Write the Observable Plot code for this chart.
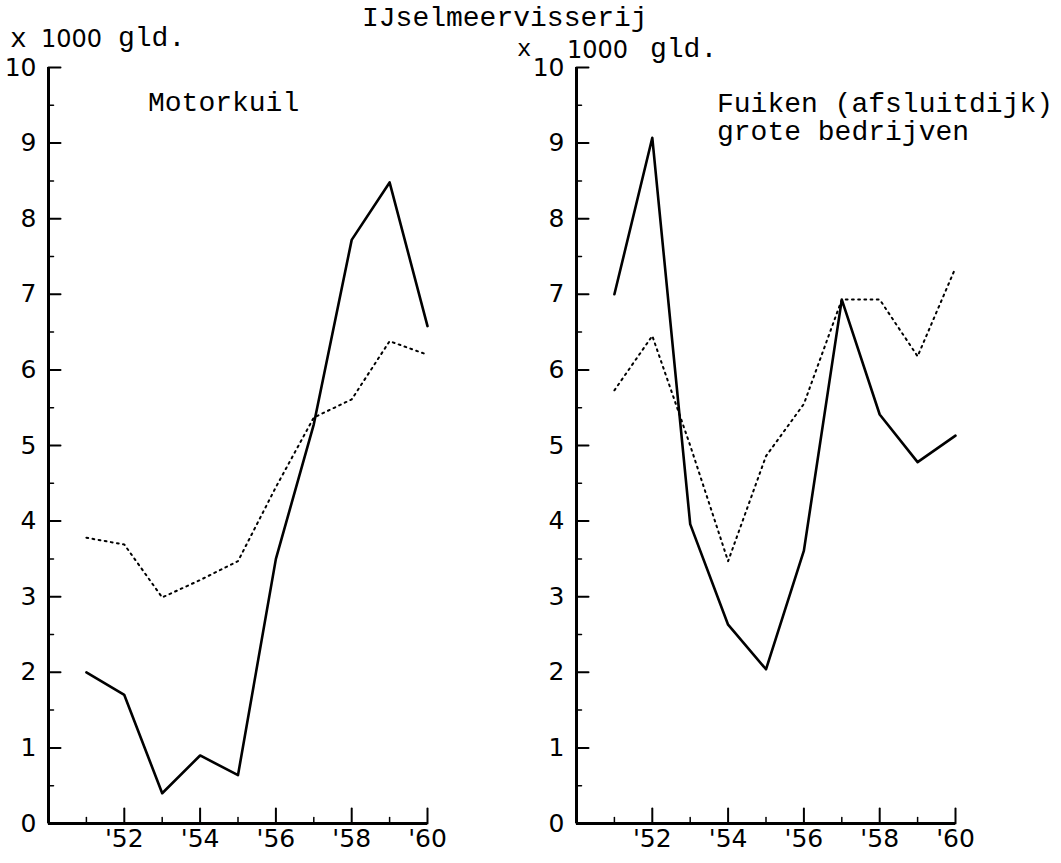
<!DOCTYPE html>
<html><head><meta charset="utf-8">
<script src="https://cdn.jsdelivr.net/npm/d3@7"></script>
<script src="https://cdn.jsdelivr.net/npm/@observablehq/plot@0.6"></script>
<style>
body{margin:0;background:#fff;}
#wrap{position:relative;width:1061px;height:863px;overflow:hidden;background:#fff;}
.mono{position:absolute;font-family:"Liberation Mono",monospace;font-size:28px;line-height:20px;color:#000;white-space:pre;}
.sans{position:absolute;font-family:"DejaVu Sans",sans-serif;font-size:24px;line-height:18px;color:#000;white-space:pre;}
.panel{position:absolute;top:0;}
</style></head>
<body><div id="wrap">
<div id="left" class="panel" style="left:0px"></div>
<div id="right" class="panel" style="left:520px"></div>
<div class="mono" style="left:362px;top:9px">IJselmeervisserij</div>
<div class="mono" style="left:10px;top:30px">x</div>
<div class="sans" style="left:41px;top:30px">1000</div>
<div class="mono" style="left:118px;top:29px">gld.</div>
<div class="mono" style="left:517px;top:40px;font-size:24px">x</div>
<div class="sans" style="left:567px;top:41px">1000</div>
<div class="mono" style="left:650px;top:40px">gld.</div>
<div class="mono" style="left:148px;top:94px">Motorkuil</div>
<div class="mono" style="left:717px;top:95px">Fuiken (afsluitdijk)</div>
<div class="mono" style="left:717px;top:123px">grote bedrijven</div>
</div>
<script>
const years = [1951, 1952, 1953, 1954, 1955, 1956, 1957, 1958, 1959, 1960];
const motorkuilSolid  = [2.0, 1.7, 0.4, 0.9, 0.64, 3.5, 5.28, 7.72, 8.48, 6.58];
const motorkuilDotted = [3.78, 3.69, 2.99, 3.22, 3.47, 4.45, 5.37, 5.61, 6.38, 6.2];
const fuikenSolid  = [7.0, 9.07, 3.96, 2.63, 2.04, 3.61, 6.93, 5.41, 4.78, 5.13];
const fuikenDotted = [5.73, 6.45, 5.0, 3.47, 4.86, 5.55, 6.93, 6.93, 6.18, 7.35];
const yTicks = [0, 1, 2, 3, 4, 5, 6, 7, 8, 9, 10];
const yMinorTicks = [0.5, 1.5, 2.5, 3.5, 4.5, 5.5, 6.5, 7.5, 8.5, 9.5];
const xMajorTicks = [1952, 1954, 1956, 1958, 1960];
const xMinorTicks = [1951, 1953, 1955, 1957, 1959];
const xDomain = [1950, 1960];
const yDomain = [0, 10];

// a plain straight tick, drawn "up" from its anchor and rotated by the vector mark
const stick = {draw(context, l) { context.moveTo(0, 0); context.lineTo(0, -l); }};

function panel(solid, dotted, o) {
  const rows = years.map((year, i) => ({year, solid: solid[i], dotted: dotted[i]}));
  return Plot.plot({
    width: o.width, height: 863,
    marginLeft: o.ml, marginRight: o.mr, marginTop: 67, marginBottom: 40,
    x: {domain: xDomain}, y: {domain: yDomain},
    style: {background: "transparent", fontFamily: "DejaVu Sans", fontSize: "25px", color: "black", overflow: "visible"},
    marks: [
      Plot.axisY(yTicks, {anchor: "left", tickSize: 0, tickPadding: 12, label: null, fontSize: 25, tickFormat: d => String(d)}),
      Plot.axisX(xMajorTicks, {anchor: "bottom", tickSize: 0, tickPadding: 6, label: null, fontSize: 25, tickFormat: d => "'" + String(d).slice(2)}),
      Plot.vector(yTicks, {y: d => d, frameAnchor: "left", anchor: "start", rotate: 90, length: 12, shape: stick, stroke: "black", strokeWidth: 2}),
      Plot.vector(yMinorTicks, {y: d => d, frameAnchor: "left", anchor: "start", rotate: 90, length: 5, shape: stick, stroke: "black", strokeWidth: 1.5}),
      Plot.vector(xMajorTicks, {x: d => d, frameAnchor: "bottom", anchor: "start", length: 15, shape: stick, stroke: "black", strokeWidth: 2}),
      Plot.vector(xMinorTicks, {x: d => d, frameAnchor: "bottom", anchor: "start", length: 6, shape: stick, stroke: "black", strokeWidth: 1.5}),
      Plot.ruleX([xDomain[0]], {y1: yDomain[0], y2: yDomain[1], strokeWidth: 3}),
      Plot.ruleY([yDomain[0]], {x1: xDomain[0], x2: xDomain[1], strokeWidth: 3}),
      Plot.line(rows, {x: "year", y: "dotted", stroke: "black", strokeWidth: 2, strokeDasharray: "1.8 4.4"}),
      Plot.line(rows, {x: "year", y: "solid", stroke: "black", strokeWidth: 2.6})
    ]
  });
}
document.getElementById("left").append(panel(motorkuilSolid, motorkuilDotted, {width: 470, ml: 48, mr: 43}));
document.getElementById("right").append(panel(fuikenSolid, fuikenDotted, {width: 541, ml: 56, mr: 106}));
</script>
</body></html>
